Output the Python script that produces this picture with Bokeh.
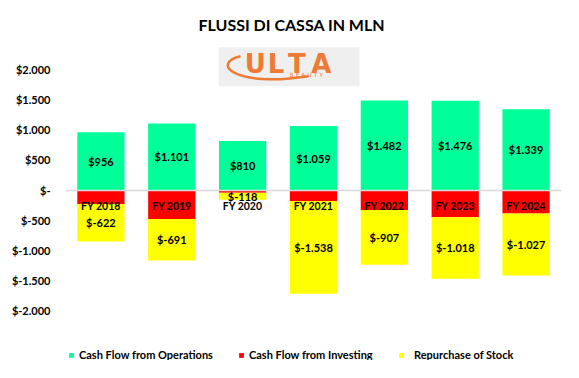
from bokeh.plotting import figure
from bokeh.models import ColumnDataSource, FactorRange, FixedTicker, Range1d, Legend
from bokeh.core.properties import value
from bokeh.embed import file_html
from bokeh.resources import INLINE

# ---- data ----
years = ["FY 2018", "FY 2019", "FY 2020", "FY 2021", "FY 2022", "FY 2023", "FY 2024"]
operations = [956, 1101, 810, 1059, 1482, 1476, 1339]
investing = [-230, -478, -45, -180, -330, -450, -390]
repurchase = [-622, -691, -118, -1538, -907, -1018, -1027]
y_ticks = [-2000, -1500, -1000, -500, 0, 500, 1000, 1500, 2000]
y_tick_labels = ["$-2.000", "$-1.500", "$-1.000", "$-500", "$-", "$500", "$1.000", "$1.500", "$2.000"]
series_names = ["Cash Flow from Operations", "Cash Flow from Investing", "Repurchase of Stock"]
title_text = "FLUSSI DI CASSA IN MLN"

# ---- styles ----
GREEN = "#00FF99"
RED = "#FF0000"
YELLOW = "#FFFF00"
FONT = "Lato"
ORANGE = "#EE7B35"


def fmt(v):
    return "$" + f"{v:,}".replace(",", ".")


src = ColumnDataSource(dict(
    x=years,
    ops=operations,
    zero=[0] * len(years),
    inv=investing,
    invrep=[i + r for i, r in zip(investing, repurchase)],
    ops_mid=[o / 2 for o in operations],
    rep_mid=[i + r / 2 for i, r in zip(investing, repurchase)],
    ops_txt=[fmt(v) for v in operations],
    rep_txt=[fmt(v) for v in repurchase],
))

p = figure(
    x_range=FactorRange(*years),
    y_range=Range1d(-2823, 2459),
    width=563, height=362,
    output_backend="svg", toolbar_location=None,
    min_border_left=65, min_border_right=2, min_border_top=41, min_border_bottom=2,
)
p.outline_line_color = None
p.grid.visible = False

# ---- logo (decorative) ----
p.rect(x=[3.154], y=[2042], width=1.99, height=646, fill_color="#EFEFEF", line_color=None)
p.bezier(x0=[2.47], y0=[2215], x1=[3.43], y1=[1884], cx0=[2.05], cy0=[2100], cx1=[2.37], cy1=[1690],
         line_color=ORANGE, line_width=2.5)
for lx, letter in zip([2.68, 2.97, 3.265, 3.61], ["U", "L", "T", "A"]):
    p.text(x=[lx], y=[2094], text=[letter], text_align="center", text_baseline="middle",
           text_font=value("DejaVu Sans"), text_font_style="bold", text_font_size="26px", text_color=ORANGE)
p.text(x=[3.465], y=[1917], text=["B  E  A  U  T  Y"], text_align="center", text_baseline="middle",
       text_font=value("DejaVu Sans"), text_font_size="6px", text_color=ORANGE)

# ---- bars ----
W = 0.667
r_ops = p.vbar(x="x", bottom="zero", top="ops", width=W, source=src, fill_color=GREEN, line_color=None)
r_inv = p.vbar(x="x", bottom="inv", top="zero", width=W, source=src, fill_color=RED, line_color=None)
r_rep = p.vbar(x="x", bottom="invrep", top="inv", width=W, source=src, fill_color=YELLOW, line_color=None)

for col, txt in (("ops_mid", "ops_txt"), ("rep_mid", "rep_txt")):
    p.text(x="x", y=col, text=txt, source=src, text_align="center", text_baseline="middle",
           text_font=value(FONT), text_font_style="bold", text_font_size="11px", text_color="black")

# ---- axes ----
p.yaxis.ticker = FixedTicker(ticks=y_ticks)
p.yaxis.major_label_overrides = {t: l for t, l in zip(y_ticks, y_tick_labels)}
p.yaxis.axis_line_color = None
p.yaxis.major_tick_line_color = None
p.yaxis.minor_tick_line_color = None
p.yaxis.major_label_standoff = 9
p.yaxis.major_label_text_font = FONT
p.yaxis.major_label_text_font_style = "bold"
p.yaxis.major_label_text_font_size = "11px"
p.yaxis.major_label_text_color = "black"

p.xaxis.fixed_location = 0
p.xaxis.axis_line_color = "#D9D9D9"
p.xaxis.axis_line_width = 1.5
p.xaxis.major_tick_line_color = None
p.xaxis.minor_tick_line_color = None
p.xaxis.major_label_standoff = 4
p.xaxis.major_label_text_font = FONT
p.xaxis.major_label_text_font_style = "bold"
p.xaxis.major_label_text_font_size = "10.5px"
p.xaxis.major_label_text_color = "black"

# ---- title ----
p.title.text = title_text
p.title.align = "left"
p.title.offset = 133
p.title.standoff = 15
p.title.text_font = FONT
p.title.text_font_size = "16px"
p.title.text_font_style = "bold"
p.title.text_color = "black"


# ---- legend ----
def make_legend(items, loc, standoff, spacing):
    lg = Legend(items=items, orientation="horizontal", location=loc)
    lg.glyph_width = 6
    lg.glyph_height = 6
    lg.label_height = 12
    lg.label_standoff = standoff
    lg.spacing = spacing
    lg.padding = 0
    lg.margin = 0
    lg.border_line_color = None
    lg.background_fill_alpha = 0
    lg.label_text_font = FONT
    lg.label_text_font_style = "bold"
    lg.label_text_font_size = "11px"
    lg.label_text_color = "black"
    return lg


p.add_layout(make_legend([(series_names[0], [r_ops]), (series_names[1], [r_inv])], (3, -1), 5, 25))
p.add_layout(make_legend([(series_names[2], [r_rep])], (333, -1), 10, 0))

open("out.html", "w").write(file_html(p, INLINE))
